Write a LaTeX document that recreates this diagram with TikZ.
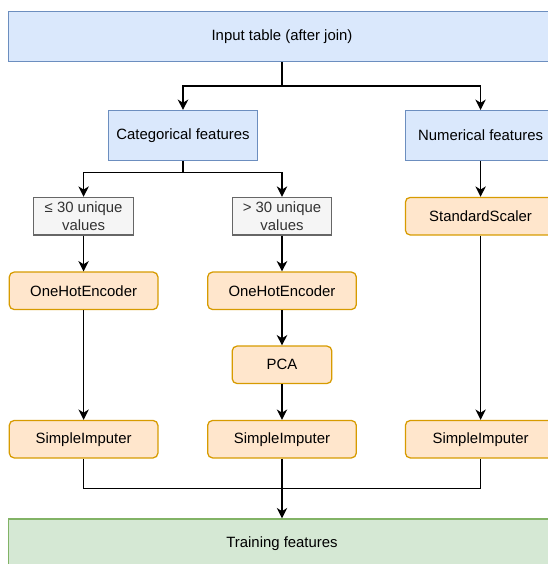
\documentclass[tikz,border=0pt]{standalone}
\usepackage{fontspec}
\setmainfont{Liberation Sans}
\usetikzlibrary{arrows.meta}

\definecolor{blueFill}{HTML}{DAE8FC}
\definecolor{blueLine}{HTML}{6C8EBF}
\definecolor{orangeFill}{HTML}{FFE6CC}
\definecolor{orangeLine}{HTML}{D79B00}
\definecolor{grayFill}{HTML}{F5F5F5}
\definecolor{grayLine}{HTML}{666666}
\definecolor{grayText}{HTML}{333333}
\definecolor{greenFill}{HTML}{D5E8D4}
\definecolor{greenLine}{HTML}{82B366}

\tikzset{
	box/.style = {draw, line width = 0.9pt, inner sep = 0pt, align = center, font = \fontsize{10.6}{12.8}\selectfont},
	datanode/.style = {box, fill = blueFill, draw = blueLine, minimum height = 1.25 cm},
	stepnode/.style = {box, fill = orangeFill, draw = orangeLine, rounded corners = 0.12 cm, minimum width = 3.715 cm, minimum height = 0.935 cm},
	splitnode/.style = {box, fill = grayFill, draw = grayLine, text = grayText, minimum width = 2.49 cm, minimum height = 0.94 cm},
	resultnode/.style = {box, fill = greenFill, draw = greenLine, minimum height = 1.25 cm},
	link/.style = {line width = 0.9pt, draw = black},
	flow/.style = {link, -{Stealth[length=2.6mm, width=2.6mm, inset=0.8mm]}}
}

\begin{document}
\begin{tikzpicture}
	\useasboundingbox (0, 0) rectangle (13.7, 14.1);
	\clip (0, 0) rectangle (13.7, 14.1);

	\node[datanode, minimum width = 13.66 cm] (input) at (7.05, 13.18) {Input table (after join)};
	\node[datanode, minimum width = 3.73 cm] (cat) at (4.575, 10.71) {Categorical features};
	\node[datanode, minimum width = 3.76 cm] (num) at (12.015, 10.71) {Numerical features};

	\node[splitnode] (low) at (2.09, 8.695) {≤ 30 unique\\values};
	\node[splitnode] (high) at (7.05, 8.695) {> 30 unique\\values};
	\node[stepnode, minimum width = 3.76 cm, minimum height = 0.94 cm] (scaler) at (12.015, 8.695) {StandardScaler};

	\node[stepnode] (onehotlow) at (2.09, 6.83) {OneHotEncoder};
	\node[stepnode] (onehothigh) at (7.05, 6.83) {OneHotEncoder};
	\node[stepnode, minimum width = 2.49 cm] (pca) at (7.05, 4.98) {PCA};

	\node[stepnode] (imputelow) at (2.09, 3.12) {SimpleImputer};
	\node[stepnode] (imputehigh) at (7.05, 3.12) {SimpleImputer};
	\node[stepnode, minimum width = 3.76 cm] (imputenum) at (12.015, 3.12) {SimpleImputer};

	\node[resultnode, minimum width = 13.66 cm] (train) at (7.05, 0.5) {Training features};

	\coordinate (split) at (7.05, 11.95);
	\coordinate (catsplit) at (4.575, 9.78);
	\coordinate (merge) at (7.05, 1.88);

	\draw[link] (input) -- (split);
	\draw[flow] (split) -| (cat);
	\draw[flow] (split) -| (num);

	\draw[link] (cat) -- (catsplit);
	\draw[flow] (catsplit) -| (low);
	\draw[flow] (catsplit) -| (high);
	\draw[flow] (num) -- (scaler);

	\draw[flow] (low) -- (onehotlow);
	\draw[flow] (high) -- (onehothigh);
	\draw[flow] (onehothigh) -- (pca);

	\draw[flow] (onehotlow) -- (imputelow);
	\draw[flow] (pca) -- (imputehigh);
	\draw[flow] (scaler) -- (imputenum);

	\draw[link] (imputelow) |- (merge);
	\draw[link] (imputenum) |- (merge);
	\draw[flow] (imputehigh) -- (train);
\end{tikzpicture}
\end{document}
